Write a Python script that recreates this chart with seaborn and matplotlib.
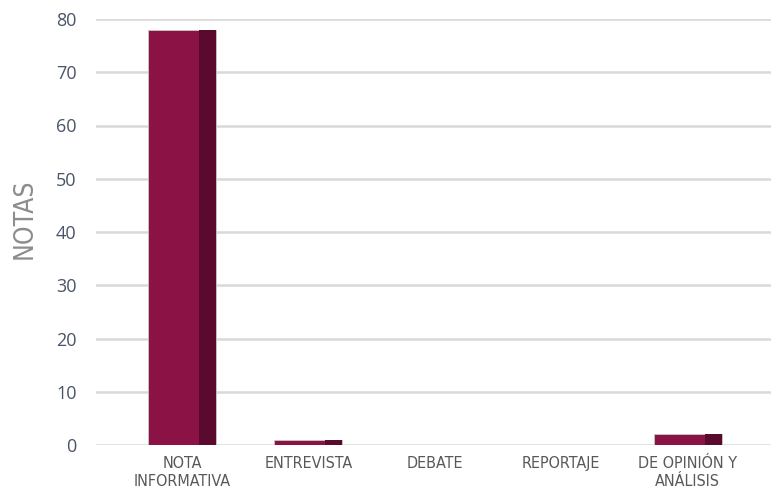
import numpy as np
import pandas as pd
import matplotlib
matplotlib.use("Agg")
import matplotlib.pyplot as plt
import seaborn as sns
from matplotlib import font_manager
from matplotlib.patches import Rectangle

# Datos del gráfico
categorias = ["NOTA\nINFORMATIVA", "ENTREVISTA", "DEBATE", "REPORTAJE", "DE OPINIÓN Y\nANÁLISIS"]
notas = [78, 1, 0, 0, 2]

COLOR_FRENTE = "#8A1245"
COLOR_LADO = "#5A0A2D"
COLOR_REJILLA = "#D9D9D9"

sns.set_theme(style="white")
plt.rcParams["font.family"] = ["Open Sans", "DejaVu Sans"]

# Fuente estrecha para las etiquetas
nombres = {f.name for f in font_manager.fontManager.ttflist}
if "Liberation Sans Narrow" in nombres:
    fuente_estrecha = dict(family=["Liberation Sans Narrow", "DejaVu Sans"])
else:
    fuente_estrecha = dict(family=["DejaVu Sans"], stretch="condensed")

df = pd.DataFrame({"categoria": categorias, "notas": notas})

fig = plt.figure(figsize=(7.71, 4.92), dpi=100)
ax = fig.add_axes([96 / 771, 1 - 445 / 492, 1 - 96 / 771, (445 - 19) / 492])

ancho_total = 0.537
ancho_lado = 0.134
sns.barplot(data=df, x="categoria", y="notas", color=COLOR_FRENTE, width=ancho_total,
            saturation=1, edgecolor="#C8C8C8", linewidth=0.6, ax=ax, zorder=3)

# Cara lateral oscura (efecto 3D) a partir de cada barra dibujada
for p in list(ax.patches):
    x0 = p.get_x() + p.get_width() - ancho_lado
    ax.add_patch(Rectangle((x0, p.get_y()), ancho_lado, p.get_height(),
                           facecolor=COLOR_LADO, edgecolor="none", zorder=3.5))

ax.set_xlim(-0.68, 4.66)
ax.set_ylim(0, 80)
ax.set_yticks(np.arange(0, 81, 10))
ax.yaxis.grid(True, color=COLOR_REJILLA, linewidth=1.8, zorder=0)
ax.set_axisbelow(True)
for s in ax.spines.values():
    s.set_visible(False)

ax.tick_params(axis="y", length=0, pad=14, labelsize=13, labelcolor="#4A5568")
ax.tick_params(axis="x", length=0, pad=8)
for lbl in ax.get_xticklabels():
    lbl.set_fontproperties(font_manager.FontProperties(size=11.5, **fuente_estrecha))
    lbl.set_color("#595959")
    lbl.set_linespacing(1.2)
    lbl.set_verticalalignment("top")

ax.set_xlabel("")
ax.set_ylabel("NOTAS", fontsize=19, color="#8C8C8C", **fuente_estrecha)
ax.yaxis.set_label_coords(-0.086, 0.53)

plt.savefig("out.png", dpi=100)
plt.close()
